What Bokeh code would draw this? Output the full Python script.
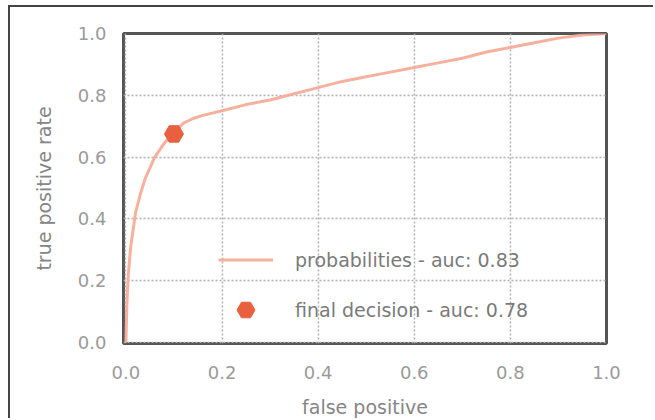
from bokeh.plotting import figure
from bokeh.models import Legend, LegendItem, Range1d, FixedTicker, NumeralTickFormatter
from bokeh.embed import file_html
from bokeh.resources import INLINE

# ROC curve (probabilities)
fpr = [0.0, 0.002, 0.005, 0.01, 0.02, 0.03, 0.04, 0.06, 0.08, 0.10, 0.12, 0.14,
       0.16, 0.20, 0.25, 0.30, 0.35, 0.40, 0.45, 0.50, 0.55, 0.60, 0.65, 0.70,
       0.75, 0.80, 0.85, 0.90, 0.95, 1.0]
tpr = [0.0, 0.12, 0.22, 0.31, 0.42, 0.48, 0.53, 0.60, 0.645, 0.68, 0.71, 0.725,
       0.735, 0.75, 0.77, 0.785, 0.805, 0.825, 0.845, 0.86, 0.875, 0.89, 0.905,
       0.92, 0.94, 0.955, 0.97, 0.985, 0.995, 1.0]
# final decision point
dec_fpr = [0.10]
dec_tpr = [0.675]
ticks = [0.0, 0.2, 0.4, 0.6, 0.8, 1.0]
label_prob = "probabilities - auc: 0.83"
label_dec = "final decision - auc: 0.78"

FONT = "DejaVu Sans"
GREY = "#858585"

p = figure(width=645, height=413, output_backend="svg", toolbar_location=None,
           x_range=Range1d(-0.005, 1.0), y_range=Range1d(-0.003, 1.0),
           min_border_left=113, min_border_right=49, min_border_top=26,
           min_border_bottom=76)

r_line = p.line(fpr, tpr, line_color="#f4a893", line_width=3, line_alpha=0.9)
r_dec = p.scatter(dec_fpr, dec_tpr, marker="hex", size=19, fill_color="#e8603f",
                  line_color="#e8603f")

p.outline_line_color = "#555555"
p.outline_line_width = 3

for ax in (p.xaxis[0], p.yaxis[0]):
    ax.ticker = FixedTicker(ticks=ticks)
    ax.formatter = NumeralTickFormatter(format="0.0")
    ax.axis_line_color = None
    ax.major_tick_line_color = None
    ax.minor_tick_line_color = None
    ax.major_label_text_font = FONT
    ax.major_label_text_font_size = "18px"
    ax.major_label_text_color = "#9a9a9a"
    ax.axis_label_text_font = FONT
    ax.axis_label_text_font_size = "19px"
    ax.axis_label_text_color = GREY
    ax.axis_label_text_font_style = "normal"

p.xaxis.axis_label = "false positive"
p.yaxis.axis_label = "true positive rate"
p.xaxis.major_label_standoff = 16
p.xaxis.axis_label_standoff = 14
p.yaxis.major_label_standoff = 11
p.yaxis.axis_label_standoff = 20

for g in (p.xgrid[0], p.ygrid[0]):
    g.grid_line_color = "#b0b0b0"
    g.grid_line_width = 1.5
    g.grid_line_dash = "2 2"

legend = Legend(items=[LegendItem(label=label_prob, renderers=[r_line]),
                       LegendItem(label=label_dec, renderers=[r_dec])],
                location=(95, 11), padding=0, margin=0, spacing=5,
                glyph_width=55, glyph_height=45, label_standoff=22,
                label_text_font=FONT, label_text_font_size="19px",
                label_text_color="#7a7a7a", background_fill_alpha=0,
                border_line_color=None)
p.add_layout(legend)

p.styles = {"border-top": "2px solid #444444", "border-left": "2px solid #444444",
            "margin-top": "5px", "margin-left": "8px"}

open("out.html", "w").write(file_html(p, INLINE))
